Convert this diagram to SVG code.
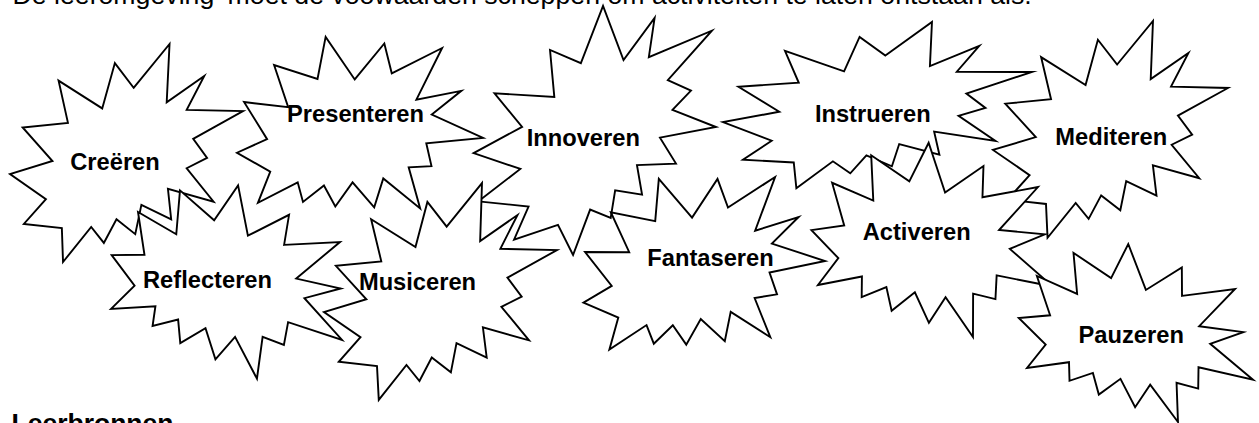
<svg xmlns="http://www.w3.org/2000/svg" xmlns:xlink="http://www.w3.org/1999/xlink" width="1259" height="423" viewBox="0 0 1259 423">
  <style>
    .seal { fill: #ffffff; stroke: #000000; stroke-width: 1.9; stroke-linejoin: miter; stroke-miterlimit: 8; vector-effect: non-scaling-stroke; }
    .lbl { font-family: "Liberation Sans", Arial, sans-serif; font-weight: bold; font-size: 23.7px; fill: #000000; text-anchor: middle; }
    .body { font-family: "Liberation Sans", Arial, sans-serif; font-size: 26.7px; fill: #000000; }
    .head { font-family: "Liberation Sans", Arial, sans-serif; font-weight: bold; font-size: 26.5px; fill: #000000; }
  </style>
  <defs>
    <path id="seal" class="seal" d="M0.5306,0.2010 L0.6847,0 L0.6725,0.2675 L0.8337,0.1469 L0.7583,0.3024 L1,0.3076 L0.7863,0.4353 L0.8458,0.5227 L0.7583,0.5699 L0.8739,0.7237 L0.6778,0.6644 L0.6918,0.8042 L0.5639,0.7377 L0.5376,0.8723 L0.4570,0.8042 L0.4028,0.9126 L0.3485,0.8391 L0.2276,1 L0.2225,0.8444 L0.0595,0.8252 L0.1542,0.7116 L0,0.5962 L0.1822,0.5367 L0.0543,0.3829 L0.2487,0.3619 L0.2084,0.1678 L0.3958,0.2955 L0.4501,0.0874 Z"/>
  </defs>
  <rect x="0" y="0" width="1259" height="423" fill="#ffffff"/>
  <text class="body" x="12.5" y="4">De leeromgeving ‘moet de voowaarden scheppen om activiteiten te laten ontstaan als.</text>

  <g id="creeren">
    <use xlink:href="#seal" href="#seal" transform="matrix(233,0,0,218,10,44)"/>
    <text class="lbl" x="115" y="170">Creëren</text>
  </g>
  <g id="presenteren">
    <use xlink:href="#seal" href="#seal" transform="matrix(214.1,92.9,-86.3,197.3,295.5,-15.6)"/>
    <text class="lbl" x="355.5" y="122">Presenteren</text>
  </g>
  <g id="innoveren">
    <use xlink:href="#seal" href="#seal" transform="matrix(259,-113.8,88.4,197,425.7,83.9)"/>
    <text class="lbl" x="583.3" y="146">Innoveren</text>
  </g>
  <g id="instrueren">
    <use xlink:href="#seal" href="#seal" transform="matrix(310.9,-2.4,6.5,165.1,719.1,23.6)"/>
    <text class="lbl" x="872.8" y="122">Instrueren</text>
  </g>
  <g id="mediteren">
    <use xlink:href="#seal" href="#seal" transform="matrix(235.7,0.7,2.3,217.1,991.6,20.5)"/>
    <text class="lbl" x="1111.3" y="145">Mediteren</text>
  </g>
  <g id="reflecteren">
    <use xlink:href="#seal" href="#seal" transform="matrix(158.9,169.7,-156.3,144.5,231.2,125.8)"/>
    <text class="lbl" x="207.5" y="288">Reflecteren</text>
  </g>
  <g id="musiceren">
    <use xlink:href="#seal" href="#seal" transform="matrix(234.1,0.7,3.8,217.1,321.7,182.6)"/>
    <text class="lbl" x="417.5" y="290">Musiceren</text>
  </g>
  <g id="fantaseren">
    <use xlink:href="#seal" href="#seal" transform="matrix(221.4,67.8,-64.5,203.6,623.5,130.6)"/>
    <text class="lbl" x="710.5" y="266">Fantaseren</text>
  </g>
  <g id="activeren">
    <use xlink:href="#seal" href="#seal" transform="matrix(181.2,152.1,-137.2,167.5,913.9,82.9)"/>
    <text class="lbl" x="916.7" y="240">Activeren</text>
  </g>
  <g id="pauzeren">
    <use xlink:href="#seal" href="#seal" transform="matrix(179.8,145.8,-125.8,145.6,1111.9,189.2)"/>
    <text class="lbl" x="1131.2" y="343">Pauzeren</text>
  </g>

  <text class="head" x="11.5" y="432">Leerbronnen</text>
</svg>
